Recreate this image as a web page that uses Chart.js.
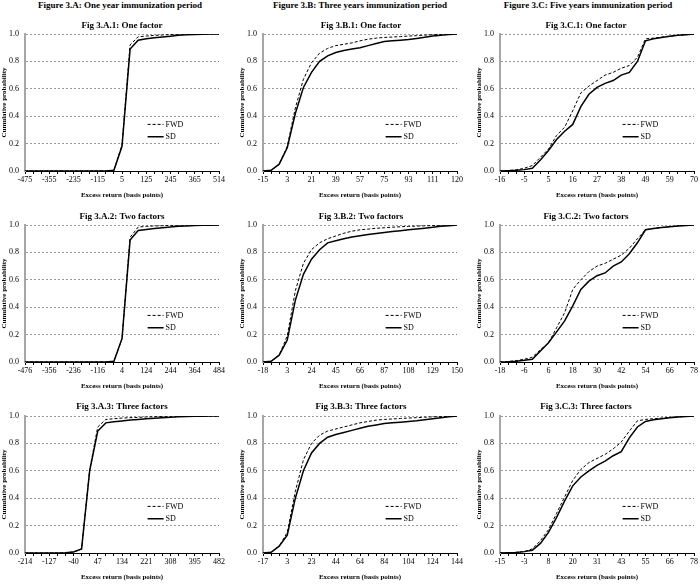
<!DOCTYPE html>
<html>
<head>
<meta charset="utf-8">
<script src="https://cdn.jsdelivr.net/npm/chart.js@4.4.0/dist/chart.umd.min.js"></script>
<style>
  body { margin: 0; width: 700px; height: 586px; background: #fff; position: relative; overflow: hidden;
         font-family: 'Liberation Serif', 'Times New Roman', serif; color: #000; }
  canvas { position: absolute; }
  .hdr, .ttl { position: absolute; font-weight: bold; font-size: 9px; line-height: 10px;
               white-space: nowrap; transform: translateX(-50%); }
</style>
</head>
<body>
<script>
// tick labels shown on the category axis (every third category)
const ticksA1 = [-475, -355, -235, -115, 5, 125, 245, 365, 514];
const ticksA2 = [-476, -356, -236, -116, 4, 124, 244, 364, 484];
const ticksA3 = [-214, -127, -40, 47, 134, 221, 308, 395, 482];
const ticksB1 = [-15, 3, 21, 39, 57, 75, 93, 111, 120];
const ticksB2 = [-18, 3, 24, 45, 66, 87, 108, 129, 150];
const ticksB3 = [-17, 3, 23, 44, 64, 84, 104, 124, 144];
const ticksC1 = [-16, -5, 5, 16, 27, 38, 49, 59, 70];
const ticksC2 = [-18, -6, 6, 18, 30, 42, 54, 66, 78];
const ticksC3 = [-15, -3, 8, 20, 31, 43, 55, 66, 78];

// cumulative probabilities, 25 categories each
const fwdA1 = [0,0,0,0,0,0,0,0,0,0,0,0.005,0.19,0.92,0.98,0.985,0.99,0.993,0.996,0.998,0.999,1,1,1,1];
const sdA1  = [0,0,0,0,0,0,0,0,0,0,0,0.005,0.18,0.89,0.955,0.965,0.972,0.978,0.984,0.99,0.994,0.997,0.999,1,1];
const fwdA2 = [0,0,0,0,0,0,0,0,0,0,0,0.005,0.17,0.91,0.985,0.99,0.993,0.995,0.997,0.998,0.999,1,1,1,1];
const sdA2  = [0,0,0,0,0,0,0,0,0,0,0,0.005,0.17,0.89,0.96,0.968,0.974,0.98,0.985,0.99,0.993,0.996,0.998,0.999,1];
const fwdA3 = [0,0,0,0,0,0.002,0.008,0.03,0.61,0.92,0.975,0.98,0.985,0.988,0.99,0.993,0.995,0.997,0.998,0.999,1,1,1,1,1];
const sdA3  = [0,0,0,0,0,0.002,0.008,0.03,0.60,0.89,0.95,0.958,0.964,0.97,0.975,0.98,0.984,0.988,0.991,0.994,0.996,0.998,0.999,1,1];

const fwdB1 = [0,0.005,0.05,0.18,0.46,0.67,0.79,0.86,0.895,0.915,0.925,0.935,0.95,0.962,0.97,0.975,0.978,0.981,0.985,0.988,0.992,0.995,0.997,0.999,1];
const sdB1  = [0,0.005,0.05,0.17,0.42,0.61,0.72,0.80,0.84,0.865,0.88,0.89,0.90,0.915,0.93,0.945,0.95,0.955,0.96,0.968,0.977,0.985,0.991,0.996,1];
const fwdB2 = [0,0.005,0.05,0.19,0.52,0.72,0.82,0.87,0.90,0.92,0.94,0.955,0.965,0.97,0.976,0.98,0.984,0.987,0.99,0.992,0.994,0.996,0.998,0.999,1];
const sdB2  = [0,0.005,0.05,0.16,0.45,0.64,0.75,0.82,0.87,0.885,0.90,0.912,0.922,0.93,0.938,0.945,0.952,0.958,0.965,0.971,0.977,0.984,0.99,0.995,1];
const fwdB3 = [0,0.005,0.05,0.15,0.45,0.68,0.80,0.86,0.89,0.905,0.92,0.935,0.95,0.96,0.97,0.975,0.978,0.982,0.985,0.988,0.991,0.994,0.996,0.998,1];
const sdB3  = [0,0.005,0.05,0.13,0.40,0.60,0.73,0.80,0.845,0.865,0.88,0.895,0.91,0.925,0.935,0.945,0.95,0.955,0.96,0.965,0.972,0.98,0.988,0.995,1];

const fwdC1 = [0,0.003,0.008,0.02,0.04,0.10,0.16,0.26,0.32,0.44,0.57,0.62,0.66,0.70,0.72,0.75,0.77,0.83,0.965,0.97,0.977,0.984,0.99,0.995,1];
const sdC1  = [0,0.002,0.005,0.01,0.02,0.08,0.15,0.23,0.29,0.34,0.47,0.56,0.61,0.64,0.66,0.70,0.72,0.80,0.95,0.965,0.975,0.983,0.99,0.995,1];
const fwdC2 = [0,0.003,0.01,0.02,0.035,0.09,0.14,0.25,0.36,0.53,0.60,0.66,0.70,0.72,0.75,0.78,0.83,0.90,0.965,0.975,0.982,0.988,0.993,0.997,1];
const sdC2  = [0,0.002,0.006,0.012,0.02,0.08,0.14,0.22,0.30,0.41,0.53,0.59,0.63,0.65,0.70,0.73,0.79,0.87,0.965,0.975,0.982,0.988,0.993,0.997,1];
const fwdC3 = [0,0.002,0.005,0.01,0.03,0.09,0.17,0.29,0.41,0.53,0.61,0.66,0.69,0.72,0.76,0.81,0.89,0.965,0.975,0.98,0.985,0.99,0.994,0.997,1];
const sdC3  = [0,0.002,0.004,0.01,0.02,0.07,0.15,0.26,0.38,0.49,0.555,0.60,0.64,0.67,0.71,0.74,0.84,0.92,0.96,0.972,0.98,0.987,0.993,0.997,1];

const headers = ['Figure 3.A: One year immunization period',
                 'Figure 3.B: Three years immunization period',
                 'Figure 3.C: Five years immunization period'];

const panels = [
  { title: 'Fig 3.A.1: One factor',    ticks: ticksA1, fwd: fwdA1, sd: sdA1, col: 0, row: 0 },
  { title: 'Fig 3.A.2: Two factors',   ticks: ticksA2, fwd: fwdA2, sd: sdA2, col: 0, row: 1 },
  { title: 'Fig 3.A.3: Three factors', ticks: ticksA3, fwd: fwdA3, sd: sdA3, col: 0, row: 2 },
  { title: 'Fig 3.B.1: One factor',    ticks: ticksB1, fwd: fwdB1, sd: sdB1, col: 1, row: 0 },
  { title: 'Fig 3.B.2: Two factors',   ticks: ticksB2, fwd: fwdB2, sd: sdB2, col: 1, row: 1 },
  { title: 'Fig 3.B.3: Three factors', ticks: ticksB3, fwd: fwdB3, sd: sdB3, col: 1, row: 2 },
  { title: 'Fig 3.C.1: One factor',    ticks: ticksC1, fwd: fwdC1, sd: sdC1, col: 2, row: 0 },
  { title: 'Fig 3.C.2: Two factors',   ticks: ticksC2, fwd: fwdC2, sd: sdC2, col: 2, row: 1 },
  { title: 'Fig 3.C.3: Three factors', ticks: ticksC3, fwd: fwdC3, sd: sdC3, col: 2, row: 2 }
];

// layout (pixels)
const plotLeft = [25, 263, 500];
const plotTop = [34, 225, 416];
const plotW = 194, plotH = 137;
const headerX = [120, 360, 588];
const titleX = [122, 361, 586];
const titleY = [20, 211, 401];

Chart.defaults.font.family = "'Liberation Serif', 'Times New Roman', serif";
Chart.defaults.color = '#000';

// legend drawn inside the plot area, like the Excel original
const innerLegend = {
  id: 'innerLegend',
  afterDatasetsDraw(chart) {
    const { ctx, chartArea: a } = chart;
    const w = a.right - a.left, h = a.bottom - a.top;
    chart.data.datasets.forEach((ds, k) => {
      const y = a.bottom - h * (k === 0 ? 0.34 : 0.25);
      const x0 = a.left + w * 0.632;
      ctx.save();
      ctx.strokeStyle = ds.borderColor;
      ctx.lineWidth = ds.borderWidth;
      ctx.setLineDash(ds.borderDash || []);
      ctx.beginPath();
      ctx.moveTo(x0, y);
      ctx.lineTo(x0 + 16, y);
      ctx.stroke();
      ctx.setLineDash([]);
      ctx.fillStyle = '#000';
      ctx.font = "8px 'Liberation Serif'";
      ctx.textBaseline = 'middle';
      ctx.fillText(ds.label, x0 + 18, y);
      ctx.restore();
    });
  }
};

headers.forEach((text, c) => {
  const d = document.createElement('div');
  d.className = 'hdr';
  d.style.left = headerX[c] + 'px';
  d.style.top = '0px';
  d.textContent = text;
  document.body.appendChild(d);
});

panels.forEach(p => {
  const cv = document.createElement('canvas');
  cv.width = 25 + plotW + 9;
  cv.height = 8 + plotH + 28;
  cv.style.left = (plotLeft[p.col] - 25) + 'px';
  cv.style.top = (plotTop[p.row] - 8) + 'px';
  document.body.appendChild(cv);

  const cats = Array.from({ length: p.fwd.length }, (_, i) => i % 3 === 0 ? String(p.ticks[i / 3]) : '');

  new Chart(cv.getContext('2d'), {
    type: 'line',
    data: {
      labels: cats,
      datasets: [
        { label: 'FWD', data: p.fwd, borderColor: '#000', borderWidth: 1, borderDash: [3, 2], pointRadius: 0, tension: 0, fill: false },
        { label: 'SD',  data: p.sd,  borderColor: '#000', borderWidth: 1.5, pointRadius: 0, tension: 0, fill: false }
      ]
    },
    options: {
      responsive: false,
      animation: false,
      layout: { padding: { top: 8, right: 9, left: 0, bottom: 0 } },
      plugins: { legend: { display: false }, tooltip: { enabled: false } },
      scales: {
        x: {
          type: 'category',
          offset: false,
          grid: { display: true, drawOnChartArea: false, drawTicks: true, tickLength: 3, color: '#000' },
          border: { color: '#000', width: 1 },
          ticks: { autoSkip: false, minRotation: 0, maxRotation: 0, padding: 1, font: { size: 8 } },
          title: { display: true, text: 'Excess return (basis points)', font: { size: 7, weight: 'bold' }, padding: { top: 2, bottom: 0 } },
          afterFit(s) { s.height = 28; s.paddingLeft = 0; s.paddingRight = 0; }
        },
        y: {
          min: 0, max: 1,
          ticks: { stepSize: 0.2, padding: 6, font: { size: 8 }, callback: v => v.toFixed(1) },
          grid: { drawTicks: false, lineWidth: 0.8, color: c => c.tick.value === 0 ? 'rgba(0,0,0,0)' : '#7f7f7f' },
          border: { color: '#a6a6a6', width: 2, dash: [2, 2] },
          title: { display: true, text: 'Cumulative probability', font: { size: 7, weight: 'bold' }, padding: { top: 0, bottom: 2 } },
          afterFit(s) { s.width = 25; s.paddingTop = 0; s.paddingBottom = 0; }
        }
      }
    },
    plugins: [innerLegend]
  });

  const t = document.createElement('div');
  t.className = 'ttl';
  t.style.left = titleX[p.col] + 'px';
  t.style.top = titleY[p.row] + 'px';
  t.textContent = p.title;
  document.body.appendChild(t);
});
</script>
</body>
</html>
